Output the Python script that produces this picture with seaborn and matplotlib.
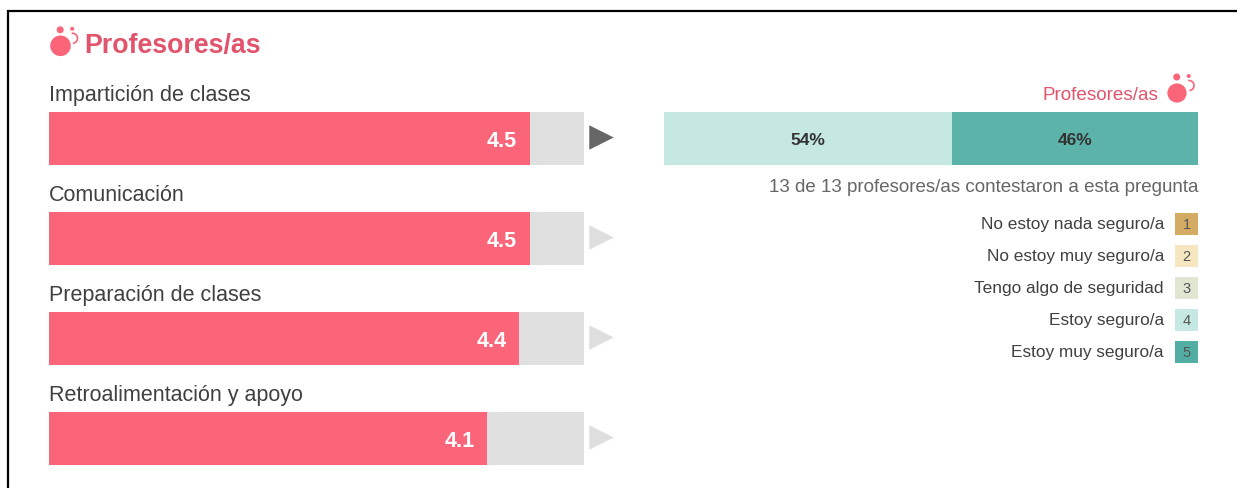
import matplotlib
matplotlib.use("Agg")
import matplotlib.pyplot as plt
from matplotlib.patches import Circle, Arc
import pandas as pd
import seaborn as sns

W, H = 1237, 488
DPI = 100

title = "Profesores/as"
categories = ["Impartición de clases", "Comunicación", "Preparación de clases", "Retroalimentación y apoyo"]
scores = [4.5, 4.5, 4.4, 4.1]
score_max = [5, 5, 5, 5]
arrow_colors = ["#666666", "#DEDEDE", "#DEDEDE", "#DEDEDE"]

share_labels = ["4", "5"]
share_values = [54, 46]
share_colors = ["#C5E8E3", "#5CB3A9"]
share_note = "13 de 13 profesores/as contestaron a esta pregunta"

legend_labels = ["No estoy nada seguro/a", "No estoy muy seguro/a", "Tengo algo de seguridad", "Estoy seguro/a", "Estoy muy seguro/a"]
legend_codes = ["1", "2", "3", "4", "5"]
legend_colors = ["#D4AB62", "#F7E7C0", "#E0E6D2", "#C5E8E3", "#52ADA3"]

RED = "#FB6579"
TITLE_RED = "#E2536C"
TEXT = "#404040"

sns.set_theme(style="white")
plt.rcParams["font.family"] = ["Liberation Sans", "DejaVu Sans"]

fig = plt.figure(figsize=(W / DPI, H / DPI), dpi=DPI, facecolor="white")


def px_axes(x0, y0, x1, y1):
    a = fig.add_axes([x0 / W, 1 - y1 / H, (x1 - x0) / W, (y1 - y0) / H])
    a.set_facecolor("none")
    return a


# Left: score bars
df = pd.DataFrame({"cat": categories, "score": scores, "max": score_max})
ax = px_axes(49, 111.3, 583.5, 465.3)
sns.barplot(data=df, y="cat", x="max", color="#E0E0E0", width=0.53, saturation=1, linewidth=0, ax=ax, orient="h")
sns.barplot(data=df, y="cat", x="score", color=RED, width=0.53, saturation=1, linewidth=0, ax=ax, orient="h")
ax.set_xlim(0, 5)
ax.set_ylim(3.27, -0.27)
ax.axis("off")
for i, (c, s) in enumerate(zip(categories, scores)):
    ax.text(s - 0.12, i + 0.03, f"{s:.1f}", color="white", fontsize=15.5, fontweight="bold",
            ha="right", va="center")
    ax.text(0, i - 0.32, c, color=TEXT, fontsize=15.5, ha="left", va="bottom", clip_on=False)
    ax.scatter([5.16], [i - 0.01], marker=">", s=310, color=arrow_colors[i], linewidths=0, clip_on=False, zorder=3)

# Right: stacked share bar
ax2 = px_axes(664, 112, 1198, 165)
left = 0
for lab, v, col in zip(share_labels, share_values, share_colors):
    sns.barplot(x=[v], y=[0], color=col, left=left, width=1, saturation=1, linewidth=0, ax=ax2, orient="h")
    ax2.text(left + v / 2, 0.03, f"{v}%", color="#333333", fontsize=12.5, fontweight="bold",
             ha="center", va="center")
    left += v
ax2.set_xlim(0, 100)
ax2.set_ylim(0.5, -0.5)
ax2.axis("off")

# Right: legend swatches
ax3 = px_axes(1175, 208, 1198, 368)
leg = pd.DataFrame({"code": legend_codes, "v": [1] * 5})
sns.barplot(data=leg, y="code", x="v", hue="code", palette=legend_colors, width=0.7, saturation=1,
            linewidth=0, legend=False, ax=ax3, orient="h")
ax3.set_xlim(0, 1)
ax3.set_ylim(4.5, -0.5)
ax3.axis("off")
for i, (lab, code) in enumerate(zip(legend_labels, legend_codes)):
    ax3.text(0.5, i + 0.02, code, color="#555555", fontsize=10.5, ha="center", va="center")
    ax3.text(-0.48, i + 0.02, lab, color=TEXT, fontsize=12.45, ha="right", va="center", clip_on=False)

# Overlay in pixel coordinates: heading, icons, frame
ov = px_axes(0, 0, W, H)
ov.set_xlim(0, W)
ov.set_ylim(H, 0)
ov.axis("off")


def icon(cx, cy, r):
    ov.add_patch(Circle((cx, cy), r, color=RED, lw=0))
    ov.add_patch(Circle((cx - 0.3, cy - 16), 3.5, color=RED, lw=0))
    ov.add_patch(Circle((cx + 11.7, cy - 17), 2, color=RED, lw=0))
    ov.add_patch(Arc((cx + 12, cy - 7.5), 10, 10, theta1=-100, theta2=85, color=RED, lw=1.2))


icon(60.5, 45.8, 10.3)
icon(1177, 93, 9.6)
ov.text(84, 46, title, color=TITLE_RED, fontsize=19.3, fontweight="bold", ha="left", va="center")
ov.text(1158, 95, title, color=TITLE_RED, fontsize=13.6, ha="right", va="center")
ov.text(1198.5, 187, share_note, color="#666666", fontsize=13.5, ha="right", va="center")

ov.plot([8, 8, 1237], [488, 11, 11], color="black", lw=1.6, solid_joinstyle="miter", clip_on=False)

fig.savefig("out.png", dpi=DPI)
